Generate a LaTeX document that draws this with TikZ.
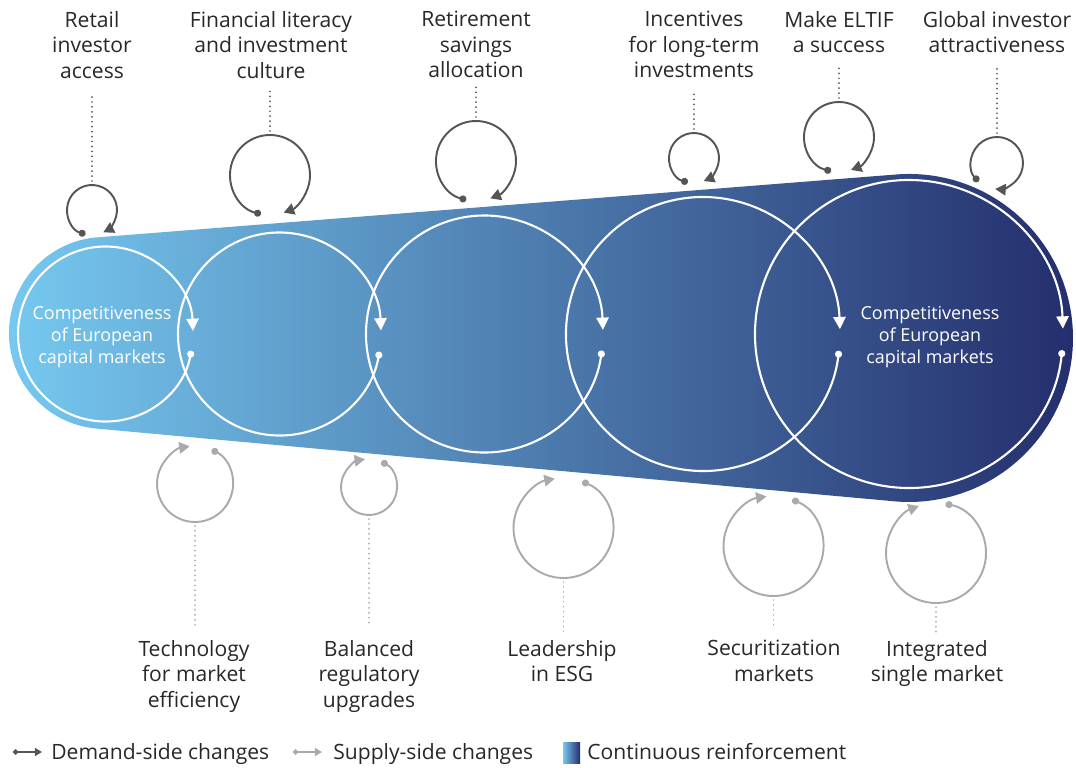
\documentclass[tikz,border=0pt]{standalone}
\usepackage{fontspec}
\setmainfont{Open Sans}
\usepackage{tikz}
\usetikzlibrary{calc,arrows.meta}
\definecolor{demgray}{RGB}{85,85,85}
\definecolor{supgray}{RGB}{170,170,173}
\definecolor{labgray}{RGB}{40,40,40}
\definecolor{skyend}{RGB}{118,201,240}
\definecolor{midblue}{RGB}{66,110,160}
\definecolor{navyend}{RGB}{36,46,108}

\begin{document}
\begin{tikzpicture}[x=0.02cm, y=-0.02cm,
	demand/.style={draw=demgray, line width=1.1pt, {Circle[length=4pt]}-{Triangle[length=6pt,width=6.5pt]}},
	supply/.style={draw=supgray, line width=1.1pt, {Circle[length=4pt]}-{Triangle[length=6pt,width=6.5pt]}},
	reinf/.style={draw=white, line width=1.2pt, {Circle[length=4pt]}-{Triangle[length=7pt,width=7pt]}},
	demdots/.style={draw=demgray, line width=1.1pt, line cap=round, dash pattern=on 0.01pt off 2.8pt},
	supdots/.style={draw=supgray, line width=1.1pt, line cap=round, dash pattern=on 0.01pt off 2.8pt},
	topic/.style={align=center, text=labgray, inner sep=0pt, font=\fontsize{12}{14.5}\selectfont},
	inner/.style={align=center, text=white, inner sep=0pt, font=\fontsize{10.2}{12.5}\selectfont}]
	\useasboundingbox (0,0) rectangle (1076,768);

	% the long shape that carries the circles
	\shade [left color=skyend, middle color=midblue, right color=navyend]
		(96.6,237.4) -- (894.7,174.6) arc[start angle=265, end angle=455, radius=164]
		-- (96.6,428.6) arc[start angle=95, end angle=265, radius=96] -- cycle;

	% white circles, each one a bit larger
	\foreach \cx/\r/\a in {105.5/87.5/11, 279.5/101.5/10, 484.5/118.5/8, 703/137/7, 909/154/6}
		\draw [reinf] ($(\cx,334)+(\a:\r)$) arc[start angle=\a, end angle=358, radius=\r];

	\node [inner] (compleft) at (102,337) {Competitiveness\\of European\\capital markets};
	\node [inner] (compright) at (930,337) {Competitiveness\\of European\\capital markets};

	% demand side, above
	\node [topic, anchor=north] (retail) at (92,11) {Retail\\investor\\access};
	\node [topic, anchor=north] (literacy) at (271,11) {Financial literacy\\and investment\\culture};
	\node [topic, anchor=north] (savings) at (476,11) {Retirement\\savings\\allocation};
	\node [topic, anchor=north] (incent) at (694,11) {Incentives\\for long-term\\investments};
	\node [topic, anchor=north] (eltif) at (839,11) {Make ELTIF\\a success};
	\node [topic, anchor=north] (global) at (997,11) {Global investor\\attractiveness};

	\foreach \cx/\cy/\r/\a/\b/\lab/\g [count=\i] in {92/210/25/105/423/retail/9pt, 270/175/40/103/430/literacy/7pt,
			476/161/40/104/429/savings/4.5pt, 694/158/25/104/427/incent/7pt,
			839/137/35/103/430/eltif/7pt, 997/163/26/135/454/global/8.5pt}
	{
		\draw [demand] ($(\cx,\cy)+(\a:\r)$) arc[start angle=\a, end angle=\b, radius=\r];
		\coordinate (dtop\i) at (\cx,\cy-\r-4);
		\draw [demdots, shorten >=\g] (dtop\i) -- (\lab.south -| dtop\i);
	}

	% supply side, below
	\node [topic, anchor=north] (techno) at (194,640) {Technology\\for market\\efficiency};
	\node [topic, anchor=north] (upgrades) at (369,640) {Balanced\\regulatory\\upgrades};
	\node [topic, anchor=north] (esg) at (562,640) {Leadership\\in ESG};
	\node [topic, anchor=north] (securit) at (774,640) {Securitization\\markets};
	\node [topic, anchor=north] (single) at (937,640) {Integrated\\single market};

	\foreach \cx/\cy/\r/\a/\b/\lab/\g [count=\i] in {195/484/38/296/622/techno/7pt, 369/487/28/296/622/upgrades/8.5pt,
			563.5/528/50/292/620/esg/4pt, 773.5/546/50/292/622/securit/6pt, 936/553/50/281/610/single/4pt}
	{
		\draw [supply] ($(\cx,\cy)+(\a:\r)$) arc[start angle=\a, end angle=\b, radius=\r];
		\coordinate (sbot\i) at (\cx,\cy+\r+4);
		\draw [supdots, shorten >=\g] (sbot\i) -- (\lab.north -| sbot\i);
	}

	% legend
	\coordinate (demA) at (13,752);
	\coordinate (demB) at (42,752);
	\draw [demand, line width=1pt, {Circle[length=3pt]}-{Triangle[length=4pt,width=4.5pt]}] (demA) -- (demB);
	\node [topic, anchor=base west] (demtxt) at (51,759) {Demand-side changes};
	\coordinate (supA) at (293,752);
	\coordinate (supB) at (322,752);
	\draw [supply, line width=1pt, {Circle[length=3pt]}-{Triangle[length=4pt,width=4.5pt]}] (supA) -- (supB);
	\node [topic, anchor=base west] (suptxt) at (333,759) {Supply-side changes};
	\shade [left color=skyend, right color=navyend] (563,742) rectangle (580,763);
	\node [topic, anchor=base west] (reintxt) at (587,759) {Continuous reinforcement};
\end{tikzpicture}
\end{document}
